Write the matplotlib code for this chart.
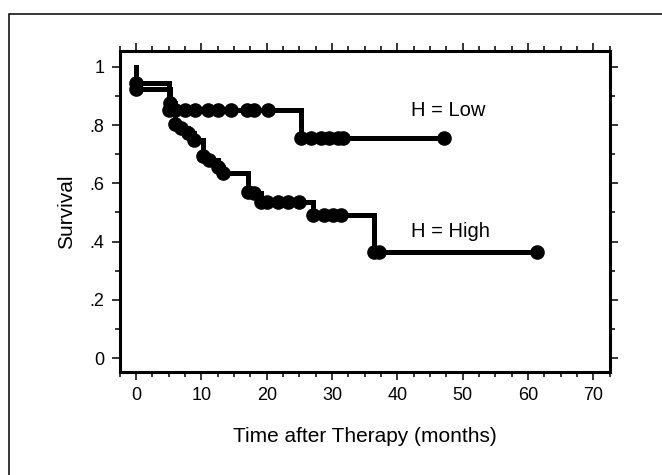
import matplotlib.pyplot as plt
from matplotlib.patches import Rectangle
from matplotlib.ticker import MultipleLocator, FixedLocator

plt.rcParams['font.family'] = ['Liberation Sans', 'DejaVu Sans']

# Kaplan-Meier steps (time in months, survival after that time)
low_time = [0, 0, 5, 6, 7.5, 9, 11, 12.5, 14.5, 17, 18, 20.2, 25.2, 26.8, 28.3, 29.5, 30.9, 31.7, 47.2]
low_surv = [1.0, 0.944, 0.85, 0.85, 0.85, 0.85, 0.85, 0.85, 0.85, 0.85, 0.85, 0.85,
            0.755, 0.755, 0.755, 0.755, 0.755, 0.755, 0.755]

high_time = [0, 0, 5.2, 6, 6.8, 8, 8.8, 10.2, 11.1, 12.5, 13.3, 17.2, 18, 19.1, 20, 21.7, 23.2,
             24.9, 27.1, 28.8, 30.1, 31.4, 36.4, 37.2, 61.3]
high_surv = [1.0, 0.925, 0.876, 0.805, 0.79, 0.772, 0.748, 0.692, 0.68, 0.655, 0.635, 0.57,
             0.565, 0.535, 0.535, 0.535, 0.535, 0.535, 0.49, 0.49, 0.49, 0.49, 0.365, 0.365, 0.365]

group_labels = ['H = Low', 'H = High']

fig = plt.figure(figsize=(6.62, 4.75), dpi=100)
ax = fig.add_axes([0.181, 0.2168, 0.740, 0.6758])

for t, s in [(low_time, low_surv), (high_time, high_surv)]:
    ax.step(t, s, where='post', color='black', lw=3.6, solid_joinstyle='miter')
    ax.plot(t[1:], s[1:], 'o', color='black', ms=9.5)

ax.text(42.1, 0.85, group_labels[0], fontsize=14.5, va='center', ha='left')
ax.text(42.1, 0.433, group_labels[1], fontsize=14.5, va='center', ha='left')

ax.set_xlim(-2.5, 72.5)
ax.set_ylim(-0.048, 1.054)

ax.xaxis.set_major_locator(FixedLocator([0, 10, 20, 30, 40, 50, 60, 70]))
ax.xaxis.set_minor_locator(MultipleLocator(2.5))
ax.yaxis.set_major_locator(FixedLocator([0, 0.2, 0.4, 0.6, 0.8, 1.0]))
ax.yaxis.set_minor_locator(MultipleLocator(0.1))
ax.set_yticklabels(['0', '.2', '.4', '.6', '.8', '1'])

ax.tick_params(which='both', direction='out', top=True, right=True, width=1.1,
               labelsize=13, color='black')
ax.tick_params(which='major', length=6, pad=5)
ax.tick_params(which='minor', length=3.5)

for sp in ax.spines.values():
    sp.set_linewidth(2.2)

ax.set_xlabel('Time after Therapy (months)', fontsize=15, labelpad=16)
ax.set_ylabel('Survival', fontsize=15, labelpad=10)

# outer frame, cut off at the right and bottom edges
fig.add_artist(Rectangle((0.0136, -0.2), 1.2, 1.1705, transform=fig.transFigure,
                         fill=False, edgecolor='black', lw=1.1))

fig.savefig('out.png', dpi=100)
